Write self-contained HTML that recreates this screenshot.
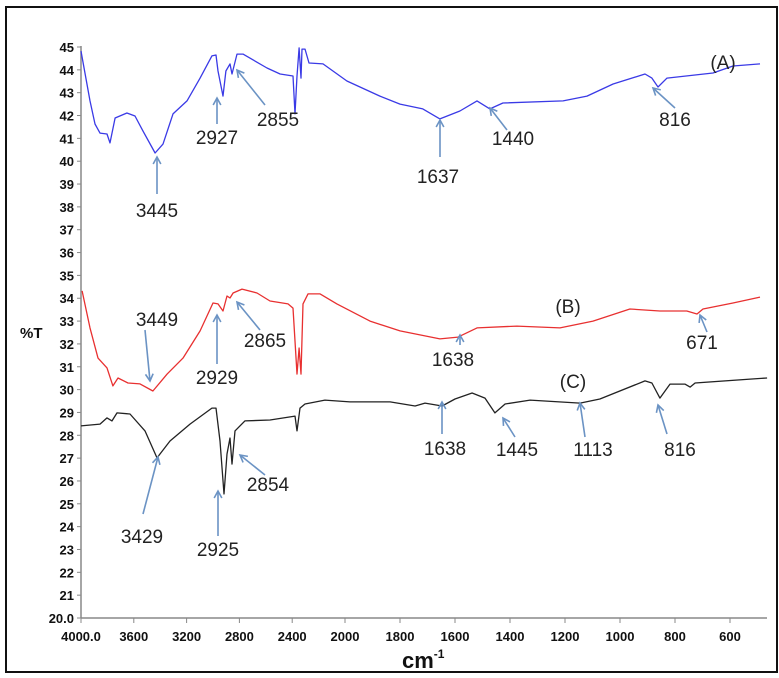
<!DOCTYPE html>
<html><head><meta charset="utf-8"><style>
body{margin:0;background:#fff}
svg{display:block}
text{font-family:"Liberation Sans",Arial,sans-serif}
.tk{font-size:13px;font-weight:bold;fill:#111}
.an{font-size:19px;fill:#222}
</style></head><body>
<svg id="c" width="779" height="678" viewBox="0 0 779 678" xmlns="http://www.w3.org/2000/svg">
<rect x="6" y="7" width="771" height="665" fill="#fff" stroke="#111" stroke-width="2"/>
<g id="axes"></g>
<g id="series"></g>
<g id="ann"></g>
</svg>
<script>
const xTicks=[4000,3600,3200,2800,2400,2000,1800,1600,1400,1200,1000,800,600];
const xTickLabels=["4000.0","3600","3200","2800","2400","2000","1800","1600","1400","1200","1000","800","600"];
const yTicks=[20,21,22,23,24,25,26,27,28,29,30,31,32,33,34,35,36,37,38,39,40,41,42,43,44,45];
const yTickLabels=["20.0","21","22","23","24","25","26","27","28","29","30","31","32","33","34","35","36","37","38","39","40","41","42","43","44","45"];
const wnA=[4000,3932,3894,3856,3803,3780,3742,3652,3591,3530,3439,3379,3303,3197,3098,3008,2977,2962,2924,2902,2871,2856,2818,2773,2591,2492,2394,2379,2364,2348,2333,2326,2303,2273,2167,1993,1873,1800,1717,1655,1582,1520,1473,1426,1207,1120,1025,909,884,862,829,662,589,491];
const tA=[44.82,42.64,41.63,41.23,41.19,40.80,41.89,42.11,41.98,41.32,40.36,40.75,42.07,42.64,43.64,44.61,44.65,43.95,42.85,43.95,44.26,43.82,44.69,44.69,44.08,43.82,43.73,42.07,43.73,44.96,43.64,44.91,44.91,44.30,44.26,43.51,42.85,42.50,42.29,41.85,42.20,42.64,42.29,42.55,42.64,42.85,43.38,43.82,43.64,43.25,43.64,43.86,44.17,44.26];
const wnB=[3992,3932,3871,3803,3758,3720,3644,3553,3455,3348,3227,3098,3000,2962,2924,2894,2871,2848,2780,2667,2568,2432,2394,2364,2348,2333,2318,2280,2189,2061,1909,1800,1655,1589,1520,1375,1218,1098,964,855,757,720,698,589,491];
const tB=[34.32,32.70,31.38,30.95,30.16,30.51,30.29,30.25,29.94,30.68,31.38,32.57,33.79,33.75,33.44,34.10,34.01,34.23,34.40,34.23,33.88,33.75,33.57,30.68,31.82,30.68,33.75,34.19,34.19,33.75,33.00,32.57,32.22,32.30,32.70,32.78,32.70,33.00,33.53,33.44,33.44,33.31,33.53,33.79,34.05];
const wnC=[4000,3856,3803,3765,3727,3629,3515,3424,3326,3174,3008,2977,2947,2917,2894,2871,2856,2833,2758,2568,2379,2364,2341,2303,2152,1982,1836,1745,1709,1647,1600,1538,1491,1455,1418,1327,1145,1073,909,884,855,818,764,745,727,527,465];
const tC=[28.41,28.49,28.76,28.63,28.98,28.93,28.19,27.01,27.75,28.49,29.19,29.19,27.75,25.43,27.18,27.88,26.74,28.19,28.63,28.67,28.84,28.19,29.19,29.37,29.54,29.46,29.46,29.28,29.41,29.28,29.59,29.85,29.63,28.98,29.37,29.54,29.41,29.59,30.38,30.29,29.63,30.24,30.24,30.11,30.29,30.46,30.51];

const NS="http://www.w3.org/2000/svg";
function X(w){return w>=2000?81+(4000-w)*264/2000:345+(2000-w)*385/1400;}
function Y(t){return 618-(t-20)*571/25;}
function mk(tag,attrs,parent,txt){const e=document.createElementNS(NS,tag);for(const k in attrs)e.setAttribute(k,attrs[k]);if(txt!==undefined)e.textContent=txt;parent.appendChild(e);return e;}
const ax=document.getElementById('axes');
let e=mk('line',{x1:81,y1:46,x2:81,y2:618,stroke:'#888','stroke-width':1.5},ax);


e=mk('line',{x1:81,y1:618,x2:767,y2:618,stroke:'#888','stroke-width':1.5},ax);


yTicks.forEach((v,i)=>{const y=Y(v);
 mk('line',{x1:77,y1:y,x2:81,y2:y,stroke:'#888'},ax);
 const t=mk('text',{x:74,y:y+5,'text-anchor':'end',class:'tk'},ax,yTickLabels[i]);
 
 });
xTicks.forEach((v,i)=>{const x=X(v);
 mk('line',{x1:x,y1:618,x2:x,y2:623,stroke:'#888'},ax);
 const t=mk('text',{x:x,y:641,'text-anchor':'middle',class:'tk'},ax,xTickLabels[i]);
 
 });
e=mk('text',{x:20,y:338,'font-size':15,'font-weight':'bold',fill:'#111'},ax,'%T');


e=mk('text',{x:402,y:668,'font-size':22,'font-weight':'bold',fill:'#111'},ax,'cm');


mk('tspan',{dy:-10,'font-size':12},e,'-1');

const sg=document.getElementById('series');
function series(wn,t,col,name){const d=wn.map((w,i)=>(i?'L':'M')+X(w).toFixed(1)+','+Y(t[i]).toFixed(1)).join('');
 const p=mk('path',{d:d,fill:'none',stroke:col,'stroke-width':1.3,'stroke-linejoin':'round'},sg);
 
 }
series(wnA,tA,'#3a3ae6','spectrum-a');
series(wnB,tB,'#e83030','spectrum-b');
series(wnC,tC,'#222','spectrum-c');

const an=document.getElementById('ann');
const labels=[["2927",217,144,217,124,217,98],["2855",278,126,265,105,237,70],["3445",157,217,157,194,157,157],
["1637",438,183,440,157,440,120],["1440",513,145,507,130,490,108],["816",675,126,675,108,653,88],
["3449",157,326,145,330,150,381],["2929",217,384,217,364,217,315],["2865",265,347,260,330,237,302],
["1638",453,366,460,345,460,335],["671",702,349,707,332,700,315],
["3429",142,543,143,514,158,457],["2925",218,556,218,536,218,491],["2854",268,491,265,475,240,455],
["1638",445,455,442,434,442,402],["1445",517,456,515,437,503,418],["1113",593,456,585,437,580,403],["816",680,456,667,434,658,405]];
labels.forEach(l=>{
 const g=mk('g',{},an);
 
 
 mk('text',{x:l[1],y:l[2],'text-anchor':'middle',class:'an'},g,l[0]);
 const [x1,y1,x2,y2]=[l[3],l[4],l[5],l[6]];
 mk('line',{x1:x1,y1:y1,x2:x2,y2:y2,stroke:'#6b93c4','stroke-width':1.6},g);
 const a=Math.atan2(y2-y1,x2-x1),s=8;
 const p1=[x2-s*Math.cos(a-0.5),y2-s*Math.sin(a-0.5)],p2=[x2-s*Math.cos(a+0.5),y2-s*Math.sin(a+0.5)];
 mk('polyline',{points:p1.join(',')+' '+x2+','+y2+' '+p2.join(','),fill:'none',stroke:'#6b93c4','stroke-width':1.6},g);
});
[["(A)",723,69],["(B)",568,313],["(C)",573,388]].forEach(l=>{
 const t=mk('text',{x:l[1],y:l[2],'text-anchor':'middle',class:'an'},an,l[0]);
 
 });
</script>
</body></html>
